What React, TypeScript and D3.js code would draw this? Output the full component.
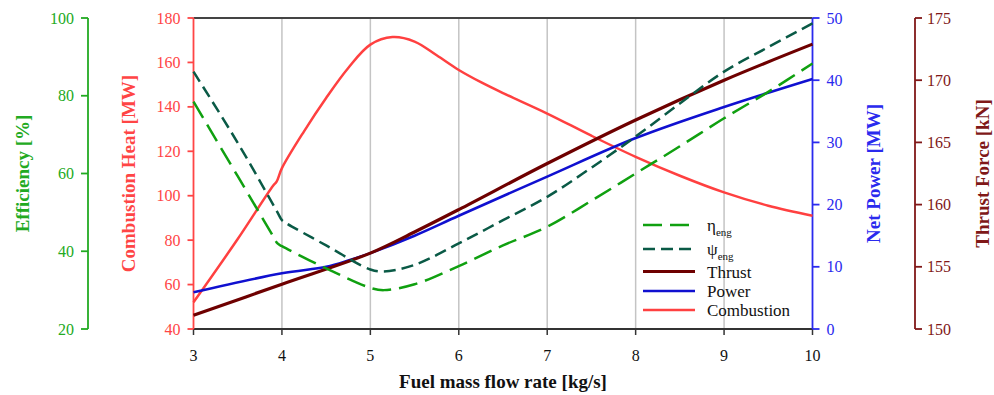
import React from "react";
import * as d3 from "d3";

// ---------- data ----------
const xTicks = [3, 4, 5, 6, 7, 8, 9, 10];
const effTicks = [20, 40, 60, 80, 100];
const combTicks = [40, 60, 80, 100, 120, 140, 160, 180];
const powTicks = [0, 10, 20, 30, 40, 50];
const thrTicks = [150, 155, 160, 165, 170, 175];

const etaX = [3, 3.5, 3.9, 3.95, 4.0, 4.5, 5, 5.15, 5.5, 6, 6.5, 7, 7.5, 8, 8.5, 9, 9.5, 10];
const etaY = [78.5, 59.3, 43.9, 42, 41.3, 35.6, 30.6, 30, 31.5, 36.2, 41.5, 46.3, 53, 60, 67, 74.2, 81, 88.3];

const psiX = [3, 3.5, 3.95, 4.0, 4.05, 4.5, 5, 5.15, 5.5, 6, 6.5, 7, 7.5, 8, 8.5, 9, 9.5, 10];
const psiY = [86.2, 67.9, 50, 48, 47.2, 41.5, 35.3, 34.8, 36.5, 42, 48, 54, 61.5, 69.5, 78, 86.2, 92.5, 98.6];

const thrustX = [3, 4, 5, 5.5, 6, 7, 8, 9, 10];
const thrustY = [151.1, 153.6, 156.1, 157.8, 159.6, 163.3, 166.8, 170, 172.9];

const powerX = [3, 4, 4.5, 4.75, 5, 5.5, 6, 7, 8, 9, 10];
const powerY = [5.9, 8.95, 10.0, 11.0, 12.2, 15.0, 18.2, 24.5, 30.7, 35.7, 40.2];

const combX = [3, 3.5, 3.9, 3.94, 4.0, 4.25, 4.5, 4.75, 5, 5.25, 5.5, 5.75, 6, 6.25, 6.5, 7, 7.5, 8, 8.5, 9, 9.5, 10];
const combY = [52, 80.5, 104.5, 106.3, 112.4, 129, 144, 157.5, 168, 171.4, 169.4, 163.2, 156.6, 151.1, 146.2, 137, 127, 117.5, 109, 101.5, 95.5, 91];

const legendItems = [
  { key: "eta", main: "η", sub: "eng" },
  { key: "psi", main: "ψ", sub: "eng" },
  { key: "thrust", main: "Thrust", sub: "" },
  { key: "power", main: "Power", sub: "" },
  { key: "comb", main: "Combustion", sub: "" },
];

// ---------- styles ----------
const C = {
  eta: "#10a010",
  psi: "#0a5a46",
  thrust: "#6e0000",
  power: "#1010d0",
  comb: "#ff4040",
  effAxis: "#22aa22",
  combAxis: "#ff4545",
  powAxis: "#2a2aee",
  thrAxis: "#801818",
};

const FONT = "'Liberation Serif', 'Times New Roman', Times, serif";

export default function App() {
  const W = 994, H = 395;
  const left = 193.5, right = 812.5, top = 18, bottom = 329;
  const x = d3.scaleLinear().domain([3, 10]).range([left, right]);
  const yEff = d3.scaleLinear().domain([20, 100]).range([bottom, top]);
  const yComb = d3.scaleLinear().domain([40, 180]).range([bottom, top]);
  const yPow = d3.scaleLinear().domain([0, 50]).range([bottom, top]);
  const yThr = d3.scaleLinear().domain([150, 175]).range([bottom, top]);

  const mk = (xs: number[], ys: number[], y: d3.ScaleLinear<number, number>) =>
    d3
      .line<number>()
      .x((_, i) => x(xs[i]))
      .y((d) => y(d))
      .curve(d3.curveCatmullRom.alpha(0.5))(ys) || "";

  const series = [
    { key: "comb", d: mk(combX, combY, yComb), color: C.comb, w: 2.5, dash: undefined },
    { key: "power", d: mk(powerX, powerY, yPow), color: C.power, w: 2.6, dash: undefined },
    { key: "thrust", d: mk(thrustX, thrustY, yThr), color: C.thrust, w: 3.2, dash: undefined },
    { key: "psi", d: mk(psiX, psiY, yEff), color: C.psi, w: 2.5, dash: "12,6" },
    { key: "eta", d: mk(etaX, etaY, yEff), color: C.eta, w: 2.5, dash: "19,8" },
  ];
  const styleOf: Record<string, { color: string; w: number; dash?: string }> = {};
  series.forEach((s) => (styleOf[s.key] = { color: s.color, w: s.w, dash: s.dash }));

  const effX = 88;
  const thrAxisX = 915;
  const legendRows = [225, 249, 271.5, 291, 310];

  return (
    <div style={{ position: "fixed", left: 0, top: 0 }}>
      <svg width={W} height={H} style={{ display: "block", background: "#fff" }} fontFamily={FONT}>
        {/* grid */}
        {xTicks.slice(1, -1).map((t) => (
          <line key={t} x1={x(t)} x2={x(t)} y1={top} y2={bottom} stroke="#c4c4c4" strokeWidth={1.5} />
        ))}
        {/* frame top and bottom */}
        <line x1={left} x2={right} y1={top} y2={top} stroke="#444" strokeWidth={2} />
        <line x1={left} x2={right} y1={bottom} y2={bottom} stroke="#333" strokeWidth={2} />
        {xTicks.map((t) => (
          <g key={t}>
            <line x1={x(t)} x2={x(t)} y1={bottom} y2={bottom + 6} stroke="#333" strokeWidth={1.5} />
            <text x={x(t)} y={361} textAnchor="middle" fontSize={16} fill="#111">
              {t}
            </text>
          </g>
        ))}
        <text x={(left + right) / 2} y={388} textAnchor="middle" fontSize={19} fontWeight="bold" fill="#111">
          Fuel mass flow rate [kg/s]
        </text>

        {/* efficiency axis */}
        <line x1={effX} x2={effX} y1={top} y2={bottom} stroke={C.effAxis} strokeWidth={1.8} />
        {effTicks.map((t) => (
          <g key={t}>
            <line x1={effX - 7} x2={effX} y1={yEff(t)} y2={yEff(t)} stroke={C.effAxis} strokeWidth={1.8} />
            <text x={effX - 14} y={yEff(t) + 5.5} textAnchor="end" fontSize={16} fill={C.effAxis}>
              {t}
            </text>
          </g>
        ))}
        <text
          transform={`translate(29,${(top + bottom) / 2}) rotate(-90)`}
          textAnchor="middle"
          fontSize={19}
          fontWeight="bold"
          fill={C.effAxis}
        >
          Efficiency [%]
        </text>

        {/* combustion axis */}
        <line x1={left} x2={left} y1={top} y2={bottom} stroke={C.combAxis} strokeWidth={1.8} />
        {combTicks.map((t) => (
          <g key={t}>
            <line x1={left - 6} x2={left} y1={yComb(t)} y2={yComb(t)} stroke={C.combAxis} strokeWidth={1.8} />
            <text x={left - 13} y={yComb(t) + 5.5} textAnchor="end" fontSize={16} fill={C.combAxis}>
              {t}
            </text>
          </g>
        ))}
        <text
          transform={`translate(135,${(top + bottom) / 2}) rotate(-90)`}
          textAnchor="middle"
          fontSize={19}
          fontWeight="bold"
          fill={C.combAxis}
        >
          Combustion Heat [MW]
        </text>

        {/* power axis */}
        <line x1={right} x2={right} y1={top} y2={bottom} stroke={C.powAxis} strokeWidth={1.8} />
        {powTicks.map((t) => (
          <g key={t}>
            <line x1={right} x2={right + 7} y1={yPow(t)} y2={yPow(t)} stroke={C.powAxis} strokeWidth={1.8} />
            <text x={right + 14} y={yPow(t) + 5.5} textAnchor="start" fontSize={16} fill={C.powAxis}>
              {t}
            </text>
          </g>
        ))}
        <text
          transform={`translate(880,${(top + bottom) / 2}) rotate(-90)`}
          textAnchor="middle"
          fontSize={19}
          fontWeight="bold"
          fill={C.powAxis}
        >
          Net Power [MW]
        </text>

        {/* thrust axis */}
        <line x1={thrAxisX} x2={thrAxisX} y1={top} y2={bottom} stroke={C.thrAxis} strokeWidth={1.8} />
        {thrTicks.map((t) => (
          <g key={t}>
            <line x1={thrAxisX} x2={thrAxisX + 7} y1={yThr(t)} y2={yThr(t)} stroke={C.thrAxis} strokeWidth={1.8} />
            <text x={thrAxisX + 12} y={yThr(t) + 5.5} textAnchor="start" fontSize={16} fill={C.thrAxis}>
              {t}
            </text>
          </g>
        ))}
        <text
          transform={`translate(989,${(top + bottom) / 2}) rotate(-90)`}
          textAnchor="middle"
          fontSize={19}
          fontWeight="bold"
          fill={C.thrAxis}
        >
          Thrust Force [kN]
        </text>

        {/* series */}
        {series.map((s) => (
          <path
            key={s.key}
            d={s.d}
            fill="none"
            stroke={s.color}
            strokeWidth={s.w}
            strokeDasharray={s.dash}
            strokeLinejoin="round"
          />
        ))}

        {/* legend */}
        {legendItems.map((it, i) => {
          const st = styleOf[it.key];
          const yy = legendRows[i];
          return (
            <g key={it.key}>
              <line
                x1={643}
                x2={695}
                y1={yy}
                y2={yy}
                stroke={st.color}
                strokeWidth={st.w}
                strokeDasharray={st.dash}
              />
              <text x={707} y={yy + 6} fontSize={17} fill="#111">
                {it.main}
                {it.sub && (
                  <tspan fontSize={11} dy={5}>
                    {it.sub}
                  </tspan>
                )}
              </text>
            </g>
          );
        })}
      </svg>
    </div>
  );
}
